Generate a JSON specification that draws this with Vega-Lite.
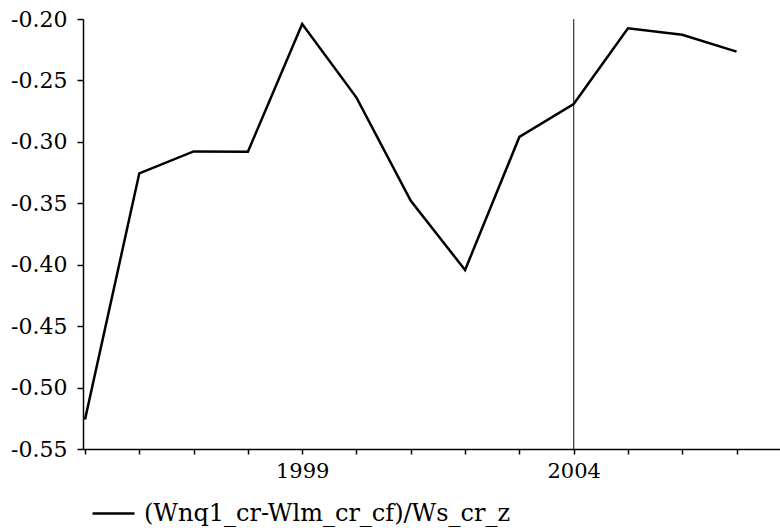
{
  "$schema": "https://vega.github.io/schema/vega-lite/v6.json",
  "width": 697,
  "height": 430,
  "padding": {"left": 83, "top": 19, "right": 0, "bottom": 79},
  "autosize": {"type": "none"},
  "background": "white",
  "config": {
    "view": {"stroke": null},
    "axis": {
      "labelFont": "DejaVu Serif",
      "labelFontSize": 22,
      "labelColor": "black",
      "domainColor": "black",
      "tickColor": "black",
      "domainWidth": 1.5,
      "tickWidth": 1.5,
      "grid": false,
      "title": null
    }
  },
  "datasets": {
    "series": [
      {"year": 1995, "value": -0.526, "series": "(Wnq1_cr-Wlm_cr_cf)/Ws_cr_z"},
      {"year": 1996, "value": -0.3256, "series": "(Wnq1_cr-Wlm_cr_cf)/Ws_cr_z"},
      {"year": 1997, "value": -0.3078, "series": "(Wnq1_cr-Wlm_cr_cf)/Ws_cr_z"},
      {"year": 1998, "value": -0.3080, "series": "(Wnq1_cr-Wlm_cr_cf)/Ws_cr_z"},
      {"year": 1999, "value": -0.204, "series": "(Wnq1_cr-Wlm_cr_cf)/Ws_cr_z"},
      {"year": 2000, "value": -0.264, "series": "(Wnq1_cr-Wlm_cr_cf)/Ws_cr_z"},
      {"year": 2001, "value": -0.348, "series": "(Wnq1_cr-Wlm_cr_cf)/Ws_cr_z"},
      {"year": 2002, "value": -0.4043, "series": "(Wnq1_cr-Wlm_cr_cf)/Ws_cr_z"},
      {"year": 2003, "value": -0.296, "series": "(Wnq1_cr-Wlm_cr_cf)/Ws_cr_z"},
      {"year": 2004, "value": -0.2692, "series": "(Wnq1_cr-Wlm_cr_cf)/Ws_cr_z"},
      {"year": 2005, "value": -0.2076, "series": "(Wnq1_cr-Wlm_cr_cf)/Ws_cr_z"},
      {"year": 2006, "value": -0.2128, "series": "(Wnq1_cr-Wlm_cr_cf)/Ws_cr_z"},
      {"year": 2007, "value": -0.2266, "series": "(Wnq1_cr-Wlm_cr_cf)/Ws_cr_z"}
    ],
    "marker": [{"year": 2004}]
  },
  "layer": [
    {
      "data": {"name": "marker"},
      "mark": {"type": "rule", "color": "#333333", "strokeWidth": 1.2},
      "encoding": {
        "x": {"field": "year", "type": "quantitative", "scale": {"domain": [1994.963, 2007.8], "nice": false, "zero": false}}
      }
    },
    {
      "data": {"name": "series"},
      "mark": {"type": "line", "strokeWidth": 2.5, "strokeJoin": "miter"},
      "encoding": {
        "x": {
          "field": "year", "type": "quantitative",
          "scale": {"domain": [1994.963, 2007.8], "nice": false, "zero": false},
          "axis": {
            "values": [1995, 1996, 1997, 1998, 1999, 2000, 2001, 2002, 2003, 2004, 2005, 2006, 2007],
            "labelExpr": "datum.value == 1999 || datum.value == 2004 ? format(datum.value, 'd') : ''",
            "labelFontSize": 21,
            "tickSize": 5,
            "labelPadding": 6,
            "labelOverlap": false,
            "labelFlush": false
          }
        },
        "y": {
          "field": "value", "type": "quantitative",
          "scale": {"domain": [-0.55, -0.2], "nice": false, "zero": false},
          "axis": {
            "values": [-0.55, -0.5, -0.45, -0.4, -0.35, -0.3, -0.25, -0.2],
            "labelExpr": "replace(format(datum.value, '.2f'), '\u2212', '-')",
            "tickSize": 6,
            "labelPadding": 10,
            "labelOverlap": false,
            "labelFlush": false
          }
        },
        "color": {
          "field": "series", "type": "nominal",
          "scale": {"range": ["black"]},
          "legend": {
            "title": null,
            "orient": "none",
            "legendX": 8,
            "legendY": 472,
            "symbolType": "stroke",
            "symbolSize": 1764,
            "symbolStrokeWidth": 2.5,
            "labelFont": "DejaVu Serif",
            "labelFontSize": 24,
            "labelColor": "black",
            "labelLimit": 600,
            "labelOffset": 8
          }
        }
      }
    }
  ]
}
